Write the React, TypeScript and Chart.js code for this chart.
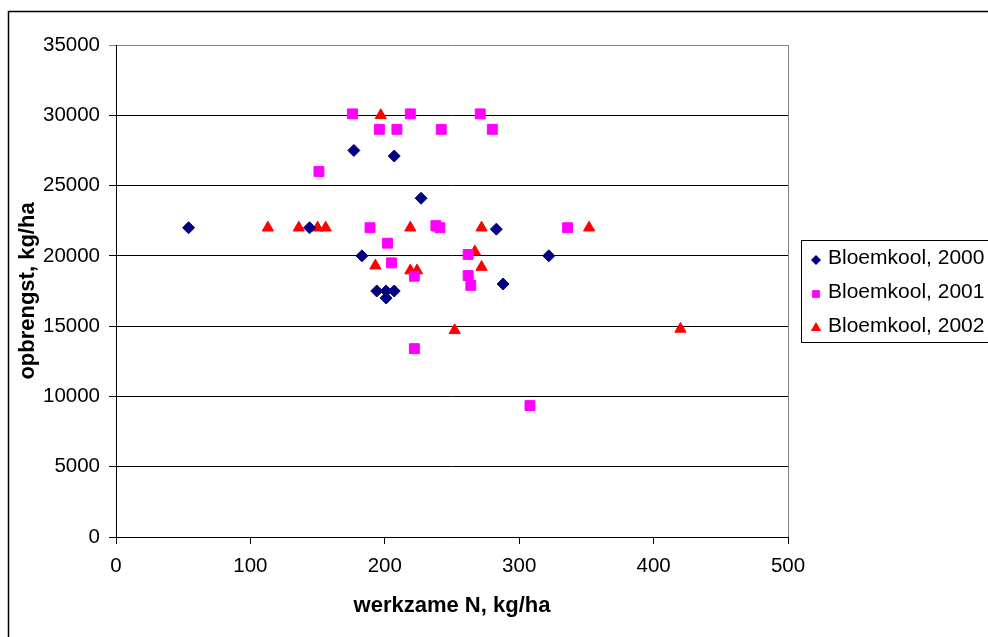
import React, { useEffect, useRef } from "react";
import { Chart, registerables } from "chart.js";
import { drawPoint } from "chart.js/helpers";

Chart.register(...registerables);

const FONT = '"Liberation Sans", Arial, Helvetica, sans-serif';

// Bloemkool, 2000
const n2000 = [54, 144, 177, 207, 227, 283, 183, 322, 288, 194, 201, 207, 201];
const yield2000 = [22000, 22000, 27500, 27100, 24100, 21900, 20000, 20000, 18000, 17500, 17500, 17500, 17000];

// Bloemkool, 2001
const n2001 = [176, 219, 271, 196, 209, 242, 280, 151, 189, 238, 241, 336, 202, 262, 205, 222, 262, 264, 222, 308];
const yield2001 = [30100, 30100, 30100, 29000, 29000, 29000, 29000, 26000, 22000, 22150, 22000, 22000, 20900, 20100, 19500, 18550, 18600, 17900, 13400, 9350];

// Bloemkool, 2002
const n2002 = [197, 113, 136, 150, 156, 219, 239, 272, 352, 267, 193, 272, 219, 224, 252, 420];
const yield2002 = [30000, 22000, 22000, 22000, 22000, 22000, 22000, 22000, 22000, 20300, 19300, 19200, 18950, 18950, 14700, 14800];

const seriesLabels = ["Bloemkool, 2000", "Bloemkool, 2001", "Bloemkool, 2002"];
const xTitle = "werkzame N, kg/ha";
const yTitle = "opbrengst, kg/ha";
const xMin = 0, xMax = 500, xStep = 100;
const yMin = 0, yMax = 35000, yStep = 5000;

const toPoints = (xs: number[], ys: number[]) => xs.map((x, i) => ({ x, y: ys[i] }));

// White background and the outer frame around the whole chart
const framePlugin = {
  id: "frame",
  beforeDraw(chart: any) {
    const { ctx, width, height } = chart;
    ctx.save();
    ctx.fillStyle = "#fff";
    ctx.fillRect(0, 0, width, height);
    ctx.strokeStyle = "#000";
    ctx.lineWidth = 1.5;
    ctx.strokeRect(8.5, 11.5, width + 50, height + 50);
    ctx.restore();
  },
};

// Grey line closing the plot area on the right
const plotBorderPlugin = {
  id: "plotBorder",
  beforeDatasetsDraw(chart: any) {
    const { ctx, chartArea } = chart;
    ctx.save();
    ctx.strokeStyle = "#808080";
    ctx.lineWidth = 1;
    ctx.beginPath();
    ctx.moveTo(Math.round(chartArea.right) + 0.5, chartArea.top);
    ctx.lineTo(Math.round(chartArea.right) + 0.5, chartArea.bottom);
    ctx.stroke();
    ctx.restore();
  },
};

// Boxed legend at the right, built from the datasets
const legendPlugin = {
  id: "boxLegend",
  afterDraw(chart: any) {
    const { ctx } = chart;
    const left = 801.5;
    const top = 240.5;
    const rowH = 34;
    ctx.save();
    ctx.strokeStyle = "#000";
    ctx.lineWidth = 1;
    ctx.strokeRect(left, top, 260, 102);
    ctx.font = `21px ${FONT}`;
    ctx.textBaseline = "middle";
    ctx.textAlign = "left";
    chart.data.datasets.forEach((ds: any, i: number) => {
      const cy = top + 19.5 + i * rowH;
      ctx.fillStyle = ds.backgroundColor;
      ctx.strokeStyle = ds.borderColor;
      drawPoint(ctx, { pointStyle: ds.pointStyle, radius: ds.legendRadius, rotation: 0, borderWidth: 0 }, left + 14.5, cy);
      ctx.fillStyle = "#000";
      ctx.fillText(ds.label, left + 26.5, cy - 1.5);
    });
    ctx.restore();
  },
};

export default function App() {
  const canvasRef = useRef<HTMLCanvasElement | null>(null);

  useEffect(() => {
    if (!canvasRef.current) return;
    const chart = new Chart(canvasRef.current, {
      type: "scatter",
      data: {
        datasets: [
          {
            label: seriesLabels[0],
            data: toPoints(n2000, yield2000),
            pointStyle: "rectRot",
            pointRadius: 6,
            borderWidth: 1,
            backgroundColor: "#000080",
            borderColor: "#000080",
            legendRadius: 5,
          } as any,
          {
            label: seriesLabels[1],
            data: toPoints(n2001, yield2001),
            pointStyle: "rect",
            pointRadius: 7,
            borderWidth: 1,
            backgroundColor: "#ff00ff",
            borderColor: "#ff00ff",
            legendRadius: 5.5,
          } as any,
          {
            label: seriesLabels[2],
            data: toPoints(n2002, yield2002),
            pointStyle: "triangle",
            pointRadius: 6.5,
            borderWidth: 1,
            backgroundColor: "#ff0000",
            borderColor: "#ff0000",
            legendRadius: 6,
          } as any,
        ],
      },
      options: {
        animation: false,
        responsive: false,
        maintainAspectRatio: false,
        layout: { padding: { top: 45, right: 200, bottom: 0, left: 0 } },
        plugins: {
          legend: { display: false },
          tooltip: { enabled: false },
        },
        scales: {
          x: {
            type: "linear",
            min: xMin,
            max: xMax,
            afterFit: (scale: any) => {
              scale.height = 100;
            },
            ticks: {
              stepSize: xStep,
              padding: 10,
              color: "#000",
              font: { family: FONT, size: 20.5 },
              callback: (v: any) => String(v),
            },
            grid: {
              drawOnChartArea: false,
              drawTicks: true,
              tickLength: 7,
              color: "#000",
            },
            border: { display: true, color: "#000", width: 1 },
            title: {
              display: true,
              text: xTitle,
              color: "#000",
              font: { family: FONT, size: 22, weight: "bold" },
              padding: { top: 0, bottom: 18 },
            },
          },
          y: {
            type: "linear",
            min: yMin,
            max: yMax,
            afterFit: (scale: any) => {
              scale.width = 116;
            },
            ticks: {
              stepSize: yStep,
              padding: 9,
              color: "#000",
              font: { family: FONT, size: 20.5 },
              callback: (v: any) => String(v),
            },
            grid: {
              drawTicks: true,
              tickLength: 7,
              color: (ctx: any) => (ctx.tick && ctx.tick.value === yMax ? "#808080" : "#000"),
            },
            border: { display: true, color: "#000", width: 1 },
            title: {
              display: true,
              text: yTitle,
              color: "#000",
              font: { family: FONT, size: 22, weight: "bold" },
              padding: { top: 15, bottom: 0 },
            },
          },
        },
      } as any,
      plugins: [framePlugin, plotBorderPlugin, legendPlugin],
    });
    return () => chart.destroy();
  }, []);

  return (
    <div style={{ position: "fixed", left: 0, top: 0, width: 988, height: 637 }}>
      <canvas ref={canvasRef} width={988} height={637} style={{ width: 988, height: 637, display: "block" }} />
    </div>
  );
}
